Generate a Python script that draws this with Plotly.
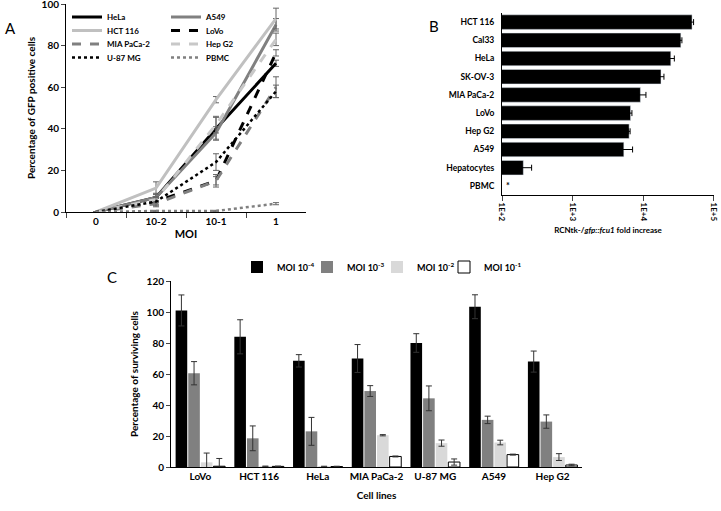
import plotly.graph_objects as go

# ---------------- Panel A data ----------------
moi_labels = ["0", "10-2", "10-1", "1"]
a_series = ["HeLa", "A549", "HCT 116", "LoVo", "MIA PaCa-2", "Hep G2", "U-87 MG", "PBMC"]
hela = [0, 7, 40, 71.5]
a549 = [0, 7, 38, 90]
hct116 = [0, 11.5, 54, 93]
lovo = [0, 5, 15, 76.5]
miapaca = [0, 4, 15, 60]
hepg2 = [0, 6, 42, 83]
u87 = [0, 5, 24, 58]
pbmc = [0, 0.5, 0.5, 4]
hela_err = [0, 2, 5.5, 1.5]
a549_err = [0, 1.5, 3, 3]
hct116_err = [0, 3, 1.5, 5]
lovo_err = [0, 1.5, 2, 1.5]
miapaca_err = [0, 1.5, 3, 5]
hepg2_err = [0, 1.5, 4, 3]
u87_err = [0, 2, 4, 3]
pbmc_err = [0, 0.3, 0.3, 0.5]

# ---------------- Panel B data ----------------
b_cells = ["HCT 116", "Cal33", "HeLa", "SK-OV-3", "MIA PaCa-2", "LoVo", "Hep G2", "A549", "Hepatocytes", "PBMC"]
b_values = [49000, 34000, 24500, 17800, 9100, 6600, 6300, 5300, 200, None]
b_err = [2500, 1200, 3000, 1800, 1800, 300, 200, 1750, 62, None]

# ---------------- Panel C data ----------------
c_cells = ["LoVo", "HCT 116", "HeLa", "MIA PaCa-2", "U-87 MG", "A549", "Hep G2"]
c_names = ["MOI 10<sup>-4</sup>", "MOI 10<sup>-3</sup>", "MOI 10<sup>-2</sup>", "MOI 10<sup>-1</sup>"]
moi_4 = [101, 84, 68.5, 70, 80, 103.4, 68]
moi_3 = [60.5, 18.5, 23, 49, 44.3, 30.4, 29.3]
moi_2 = [3, 0.4, 0.3, 20.5, 15.4, 15.8, 6.4]
moi_1 = [0.5, 0.4, 0.3, 6.8, 3.2, 8, 1.3]
moi_4_err = [10, 11, 4, 9, 6, 7.7, 6.8]
moi_3_err = [7.5, 8, 9, 3.5, 8, 2.4, 4.3]
moi_2_err = [6, 0.2, 0.2, 0.4, 2, 1.5, 2.2]
moi_1_err = [5, 0.2, 0.2, 0.3, 2, 0.3, 0.5]

FONT = "Lato"
W, H = 721, 511
fig = go.Figure()

# Panel A traces (legend rows: 2 entries per row)
a_styles = [
    (hela, hela_err, "black", "solid", 3, "legend"),
    (a549, a549_err, "#808080", "solid", 3, "legend"),
    (hct116, hct116_err, "#c0c0c0", "solid", 3, "legend2"),
    (lovo, lovo_err, "black", "dash", 3, "legend2"),
    (miapaca, miapaca_err, "#808080", "dash", 3, "legend4"),
    (hepg2, hepg2_err, "#c8c8c8", "dash", 3, "legend4"),
    (u87, u87_err, "black", "dot", 2.5, "legend5"),
    (pbmc, pbmc_err, "#808080", "dot", 2.5, "legend5"),
]
for name, (vals, err, col, dash, w, lg) in zip(a_series, a_styles):
    fig.add_trace(go.Scatter(
        x=moi_labels, y=vals, name=name, mode="lines",
        line=dict(color=col, dash=dash, width=w),
        error_y=dict(type="data", array=err, color="#666666", thickness=1, width=3),
        xaxis="x", yaxis="y", legend=lg,
    ))

# Panel B
fig.add_trace(go.Bar(
    y=b_cells, x=b_values, orientation="h", marker=dict(color="black"),
    error_x=dict(type="data", array=b_err, color="black", thickness=1, width=3),
    width=0.8, xaxis="x2", yaxis="y2", showlegend=False,
))

# Panel C (one legend per entry so entries sit at the reference spacing)
c_cols = ["black", "#808080", "#d9d9d9", "white"]
c_legends = ["legend3", "legend6", "legend7", "legend8"]
for name, vals, err, col, lg in zip(c_names, [moi_4, moi_3, moi_2, moi_1],
                                    [moi_4_err, moi_3_err, moi_2_err, moi_1_err], c_cols, c_legends):
    fig.add_trace(go.Bar(
        x=c_cells, y=vals, name=name,
        marker=dict(color=col, line=dict(color="black", width=1 if col == "white" else 0)),
        error_y=dict(type="data", array=err, color="#333333", thickness=1, width=3),
        xaxis="x3", yaxis="y3", legend=lg,
    ))

tickf = dict(family=FONT, size=10, color="black", weight="bold")
row_legend = dict(xanchor="left", yanchor="middle", orientation="h", bgcolor="rgba(0,0,0,0)",
                  font=dict(family=FONT, size=8, weight="bold"), itemwidth=30,
                  entrywidth=54, entrywidthmode="pixels")
c_legend = dict(xanchor="left", yanchor="middle", orientation="h", bgcolor="rgba(0,0,0,0)",
                font=dict(family=FONT, size=9, weight="bold"), itemwidth=30)
legend_x = 67 / W
c_leg_y = (H - 267) / H


def px_x(v):
    return v / W


def px_y(v):
    return (H - v) / H


fig.update_layout(
    width=W, height=H, margin=dict(l=0, r=0, t=0, b=0, autoexpand=False),
    paper_bgcolor="white", plot_bgcolor="white",
    font=dict(family=FONT, color="black"),
    barmode="group", bargap=0.14, bargroupgap=0.08,
    xaxis=dict(domain=[px_x(66), px_x(306)], anchor="y", type="category", range=[-0.5, 3.5],
               tickson="boundaries", ticks="outside", ticklen=5, showline=True,
               linecolor="black", linewidth=1, tickfont=tickf, showgrid=False,
               title=dict(text="<b>MOI</b>", font=dict(family=FONT, size=11), standoff=4)),
    yaxis=dict(domain=[px_y(212), px_y(4)], anchor="x", range=[0, 100], dtick=20,
               ticks="outside", ticklen=4, showline=True, linecolor="black", linewidth=1,
               tickfont=tickf, showgrid=False, zeroline=False, ticklabeloverflow="allow",
               title=dict(text="<b>Percentage of GFP positive cells</b>", font=dict(family=FONT, size=10), standoff=4)),
    xaxis2=dict(domain=[px_x(502), px_x(714)], anchor="y2", type="log", range=[1.999, 5.001],
                tickvals=[100, 1000, 10000, 100000], ticktext=["1E+2", "1E+3", "1E+4", "1E+5"],
                tickangle=90, ticks="outside", ticklen=5, showline=True, linecolor="black",
                ticklabeloverflow="allow",
                tickfont=dict(family=FONT, size=8, color="black", weight="bold"), showgrid=False,
                title=dict(text="<b>RCNtk-/<i>gfp::fcu1</i> fold increase</b>", font=dict(family=FONT, size=8), standoff=6)),
    yaxis2=dict(domain=[px_y(195), px_y(13)], anchor="x2", type="category",
                autorange="reversed", showline=True, linecolor="black", ticks="",
                ticklabelstandoff=5,
                tickfont=dict(family=FONT, size=8.5, color="black", weight="bold"), showgrid=False),
    xaxis3=dict(domain=[px_x(171), px_x(582)], anchor="y3", type="category", showline=True,
                linecolor="black", ticks="", tickfont=tickf, showgrid=False,
                title=dict(text="<b>Cell lines</b>", font=dict(family=FONT, size=10), standoff=10)),
    yaxis3=dict(domain=[px_y(467), px_y(281)], anchor="x3", range=[0, 120], dtick=20,
                ticks="outside", ticklen=4, showline=True, linecolor="black", tickfont=tickf,
                showgrid=False, zeroline=False,
                title=dict(text="<b>Percentage of surviving cells</b>", font=dict(family=FONT, size=10), standoff=6)),
    legend=dict(x=legend_x, y=px_y(17), **row_legend),
    legend2=dict(x=legend_x, y=px_y(30.5), **row_legend),
    legend4=dict(x=legend_x, y=px_y(44), **row_legend),
    legend5=dict(x=legend_x, y=px_y(57.5), **row_legend),
    legend3=dict(x=px_x(237), y=c_leg_y, **c_legend),
    legend6=dict(x=px_x(307), y=c_leg_y, **c_legend),
    legend7=dict(x=px_x(377), y=c_leg_y, **c_legend),
    legend8=dict(x=px_x(444), y=c_leg_y, **c_legend),
    annotations=[
        dict(text="A", x=px_x(3), y=px_y(17), xref="paper", yref="paper", showarrow=False,
             xanchor="left", font=dict(family=FONT, size=15)),
        dict(text="B", x=px_x(427), y=px_y(15), xref="paper", yref="paper", showarrow=False,
             xanchor="left", font=dict(family=FONT, size=15)),
        dict(text="C", x=px_x(105), y=px_y(277), xref="paper", yref="paper", showarrow=False,
             xanchor="left", font=dict(family=FONT, size=15)),
        dict(text="<b>*</b>", x=2.08, y="PBMC", xref="x2", yref="y2", showarrow=False,
             font=dict(family=FONT, size=9)),
    ],
)

fig.write_html("out.html", config={"displayModeBar": False},
               post_script="document.body.style.margin='0';")
